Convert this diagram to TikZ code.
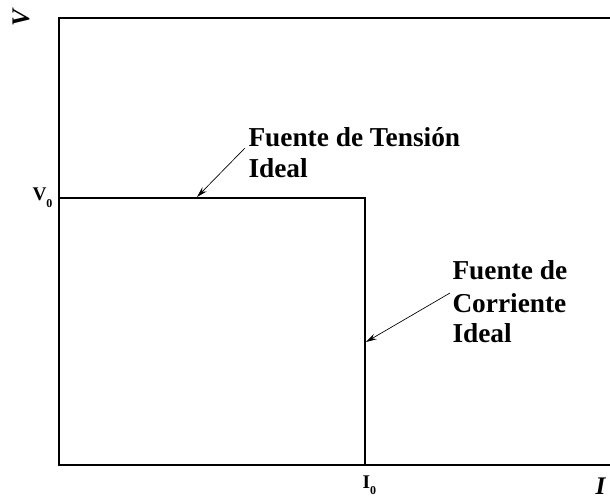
\documentclass[tikz,border=0pt]{standalone}
\usepackage{fontspec}
\setmainfont{Liberation Serif}
\usetikzlibrary{arrows.meta}

\tikzset{every picture/.style={line width=0.75pt}}
\tikzset{
	axis line/.style={line width=1.5pt},
	label big/.style={font=\bfseries\fontsize{20.5}{23}\selectfont, anchor=base west, inner sep=0pt},
	label small/.style={font=\bfseries\fontsize{14.5}{16}\selectfont, inner sep=0pt},
	label axis/.style={font=\bfseries\itshape\fontsize{19}{21}\selectfont, inner sep=0pt}
}
\tikzset{pointer/.style={line width=0.5pt, -{Stealth[length=8pt,width=4.5pt]}}}
\newcommand{\lowsub}[1]{\raisebox{-0.35em}{\fontsize{9}{10}\selectfont #1}}

\begin{document}
\begin{tikzpicture}[x=0.75pt,y=0.75pt,yscale=-1,xscale=1]
	\useasboundingbox (0,0) rectangle (610,498);

	%Corners
	\coordinate (origin) at (59,465);
	\coordinate (topleft) at (59,18);
	\coordinate (topright) at (612,18);
	\coordinate (botright) at (612,465);
	\coordinate (vzero) at (59,198);
	\coordinate (corner) at (365,198);
	\coordinate (izero) at (365,465);

	%Frame
	\draw [axis line] (topright) -- (topleft) -- (origin) -- (botright) ;
	%Ideal sources
	\draw [axis line] (vzero) -- (corner) -- (izero) ;

	% Text Node
	\node [label axis, rotate=90, anchor=base] (vaxis) at (29,18) {V};
	% Text Node
	\node [label axis, anchor=base west] (iaxis) at (595,494) {I};
	% Text Node
	\node [label small, anchor=base west] (vlab) at (32,201) {V\lowsub{0}};
	% Text Node
	\node [label small, anchor=base west] (ilab) at (362,488) {I\lowsub{0}};

	% Text Node
	\node [label big] (tension) at (248,147) {Fuente de Tensión};
	\node [label big] (tension2) at (248,178) {Ideal};
	% Text Node
	\node [label big] (corriente) at (452,280) {Fuente de};
	\node [label big] (corriente2) at (452,313) {Corriente};
	\node [label big] (corriente3) at (452,343) {Ideal};

	%Pointers
	\coordinate (tstart) at (245,148);
	\coordinate (tend) at (197,197);
	\coordinate (cstart) at (450,293);
	\coordinate (cend) at (366,342);
	\draw [pointer] (tstart) -- (tend) ;
	\draw [pointer] (cstart) -- (cend) ;

\end{tikzpicture}
\end{document}
